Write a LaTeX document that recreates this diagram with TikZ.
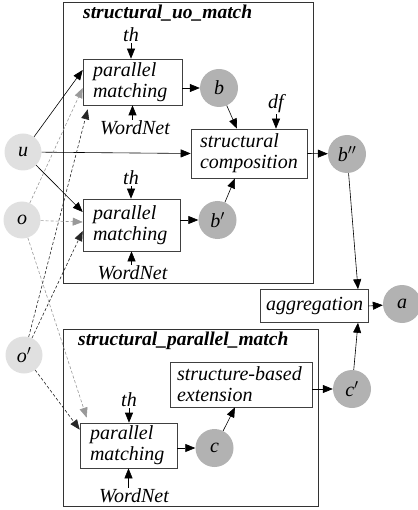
\documentclass[tikz,border=0pt]{standalone}
\usepackage{fontspec}
\setmainfont{Liberation Serif}
\usetikzlibrary{arrows.meta}

\tikzset{
  txt/.style={font=\fontsize{20}{21}\selectfont\itshape},
  proc/.style={txt, draw=black!75, line width=0.6pt, fill=white, align=left,
    inner ysep=0pt},
  lightdot/.style={txt, circle, fill=black!12, minimum size=37pt, inner sep=0pt},
  darkdot/.style={txt, circle, fill=black!30, minimum size=38pt, inner sep=0pt},
  lbl/.style={txt, inner sep=1pt},
  boxtitle/.style={font=\fontsize{19.5}{21}\selectfont\bfseries\itshape, anchor=west, inner sep=0pt},
  frame/.style={draw=black!80, line width=0.6pt},
  flow/.style={-{Triangle[length=10pt,width=8pt]}, line width=0.6pt},
  grayflow/.style={flow, black!40, dash pattern=on 3pt off 2pt},
  blackflow/.style={flow, black!85, dash pattern=on 3pt off 2pt},
}

\begin{document}
\begin{tikzpicture}[x=1pt,y=-1pt]
    \useasboundingbox (0,0) rectangle (417,510);

    % Rahmen der beiden Teilprozesse
    \draw[frame] (63,2) rectangle (313,283);
    \draw[frame] (63,329) rectangle (318,506);
    \node[boxtitle] (t1) at (83,13) {structural\_uo\_match};
    \node[boxtitle] (t2) at (78,341) {structural\_parallel\_match};

    % Eingaben
    \node[lightdot] (u) at (23,152) {u};
    \node[lightdot] (o) at (22,220) {o};
    \node[lightdot] (op) at (24,355) {o$'$};

    % Verarbeitungsschritte
    \node[proc, text width=79pt, inner xsep=10pt, minimum height=46pt] (pm1) at (132.5,82) {parallel\\matching};
    \node[proc, text width=77pt, inner xsep=10pt, minimum height=52pt] (pm2) at (131.5,225) {parallel\\matching};
    \node[proc, text width=98pt, inner xsep=9pt, minimum height=49pt] (sc) at (249,153.5) {structural\\composition};
    \node[proc, text width=96pt, inner xsep=6pt, minimum height=33pt] (agg) at (314,306) {aggregation};
    \node[proc, text width=128pt, inner xsep=7pt, minimum height=45pt] (sbe) at (241,384.5) {\mbox{structure-based}\\extension};
    \node[proc, text width=77pt, inner xsep=10pt, minimum height=45pt] (pm3) at (128.5,445.5) {parallel\\matching};

    % Zwischenergebnisse
    \node[darkdot] (b) at (219,88) {b};
    \node[darkdot] (bp) at (217.5,220) {b$'$};
    \node[darkdot] (bpp) at (347,154) {b$''$};
    \node[darkdot] (a) at (402,304) {a};
    \node[darkdot] (cp) at (352,389) {c$'$};
    \node[darkdot] (c) at (214.5,448) {c};

    % Parameter
    \node[lbl] (th1) at (131,35) {th};
    \node[lbl] (wn1) at (135,128) {WordNet};
    \node[lbl] (th2) at (131,178) {th};
    \node[lbl] (wn2) at (132.5,273) {WordNet};
    \node[lbl] (df) at (276,104) {df};
    \node[lbl] (th3) at (129,400) {th};
    \node[lbl] (wn3) at (134,496) {WordNet};

    \draw[flow] (th1) -- (th1 |- pm1.north);
    \draw[flow] (pm1.south |- wn1.north) -- (pm1.south);
    \draw[flow] (th2) -- (th2 |- pm2.north);
    \draw[flow] (pm2.south |- wn2.north) -- (pm2.south);
    \draw[flow] (th3) -- (th3 |- pm3.north);
    \draw[flow] (pm3.south |- wn3.north) -- (pm3.south);
    \draw[flow] (df) -- (df |- sc.north);

    % Datenfluss
    \draw[flow] (pm1.east |- b) -- (b);
    \draw[flow] (pm2.east |- bp) -- (bp);
    \draw[flow] (pm3.east |- c) -- (c);
    \draw[flow] (b) -- ([xshift=-12pt]sc.north);
    \draw[flow] (bp) -- ([xshift=-14pt]sc.south);
    \draw[flow] (u) -- (sc.west);
    \draw[flow] (sc.east) -- (bpp);
    \draw[flow] (bpp) -- ([xshift=44pt]agg.north);
    \draw[flow] (cp) -- ([xshift=44pt]agg.south);
    \draw[flow] (agg.east) -- (a);
    \draw[flow] (sbe.east |- cp) -- (cp);
    \draw[flow] (c) -- ([xshift=-6pt]sbe.south);

    % Eingaben zu den Matchern
    \draw[flow] (u) -- ([yshift=12pt]pm1.west);
    \draw[flow] (u) -- ([yshift=13pt]pm2.west);
    \draw[grayflow] (o) -- ([yshift=-6pt]pm1.west);
    \draw[grayflow] (o) -- ([yshift=3pt]pm2.west);
    \draw[grayflow] (o) -- ([xshift=7pt,yshift=5pt]pm3.north west);
    \draw[blackflow] (op) -- ([xshift=5pt,yshift=-4pt]pm1.south west);
    \draw[blackflow] (op) -- ([yshift=-6pt]pm2.west);
    \draw[blackflow] (op) -- ([yshift=-7pt]pm3.north west);
\end{tikzpicture}
\end{document}
